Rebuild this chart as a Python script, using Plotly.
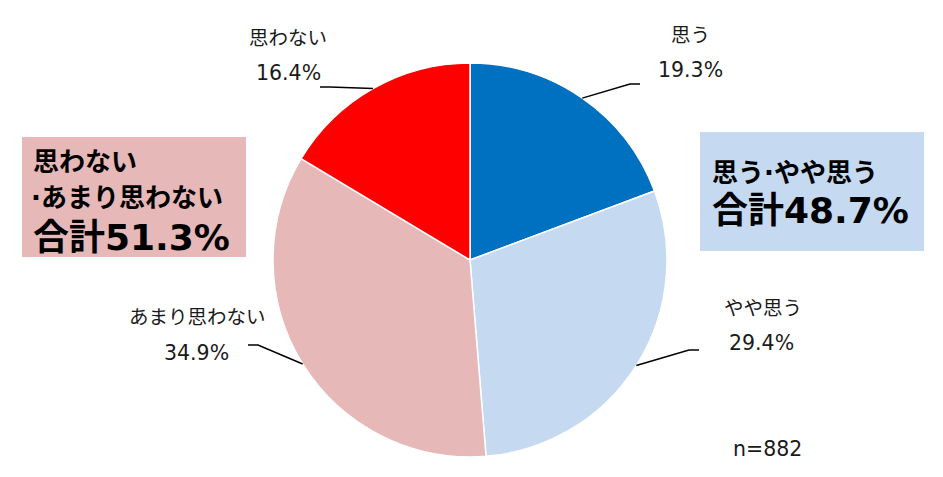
import math
import plotly.graph_objects as go

# ---- data ----
categories = ["思う", "やや思う", "あまり思わない", "思わない"]
values = [19.3, 29.4, 34.9, 16.4]
colors = ["#0070C0", "#C5D9F1", "#E6B8B7", "#FF0000"]
box_left_lines = ["思わない", "·あまり思わない", "合計51.3%"]
box_right_lines = ["思う·やや思う", "合計48.7%"]
n_label = "n=882"

W, H = 943, 477
CX, CY, R = 470, 260, 197

FONT = "DejaVu Sans, Noto Sans CJK JP, sans-serif"

def px(x):
    return x / W

def py(y):
    return 1 - y / H

fig = go.Figure()
fig.add_trace(go.Pie(
    labels=categories, values=values, sort=False, direction="clockwise",
    rotation=0, marker=dict(colors=colors, line=dict(color="white", width=1.5)),
    textinfo="none", hoverinfo="label+percent", showlegend=False,
    domain=dict(x=[px(CX - R), px(CX + R)], y=[py(CY + R), py(CY - R)]),
))

# leader-line layout (elbow, end) and label centres per category
label_layout = {
    "思う": dict(elbow=(630, 84), end=(640, 84), name=(690, 36), pct=(690, 70)),
    "やや思う": dict(elbow=(689, 350), end=(699, 350), name=(763, 308), pct=(761, 343)),
    "あまり思わない": dict(elbow=(258, 345), end=(248, 345), name=(197, 317), pct=(196, 353)),
    "思わない": dict(elbow=(330, 87), end=(320, 87), name=(288, 39), pct=(288, 73)),
}

shapes = []
annotations = []
total = sum(values)
cum = 0.0
for cat, v in zip(categories, values):
    mid = (cum + v / 2) / total * 2 * math.pi
    cum += v
    sx = CX + R * math.sin(mid)
    sy = CY - R * math.cos(mid)
    lay = label_layout[cat]
    ex, ey = lay["elbow"]
    tx, ty = lay["end"]
    shapes.append(dict(type="path", xref="paper", yref="paper",
                       path=f"M {px(sx)} {py(sy)} L {px(ex)} {py(ey)} L {px(tx)} {py(ty)}",
                       line=dict(color="black", width=1.5)))
    for txt, key, size in ((cat, "name", 19.5), (f"{v:.1f}%", "pct", 20.5)):
        x, y = lay[key]
        annotations.append(dict(text=txt, x=px(x), y=py(y), xref="paper", yref="paper",
                                showarrow=False, xanchor="center", yanchor="middle",
                                font=dict(family=FONT, size=size, color="#1a1a1a")))

# summary boxes
shapes.append(dict(type="rect", xref="paper", yref="paper", x0=px(22), x1=px(246),
                   y0=py(257), y1=py(137), fillcolor="#E6B8B7", line=dict(width=0), layer="below"))
shapes.append(dict(type="rect", xref="paper", yref="paper", x0=px(700), x1=px(924),
                   y0=py(251), y1=py(132), fillcolor="#C5D9F1", line=dict(width=0), layer="below"))

left_y = [162, 198, 237]
left_size = [26, 26, 36]
left_x = [31, 29, 31]
for t, y, s, x in zip(box_left_lines, left_y, left_size, left_x):
    annotations.append(dict(text=f"<b>{t}</b>", x=px(x), y=py(y), xref="paper", yref="paper",
                            showarrow=False, xanchor="left", yanchor="middle",
                            font=dict(family=FONT, size=s, color="black")))
right_y = [173, 210]
right_size = [26, 36]
for t, y, s in zip(box_right_lines, right_y, right_size):
    annotations.append(dict(text=f"<b>{t}</b>", x=px(710), y=py(y), xref="paper", yref="paper",
                            showarrow=False, xanchor="left", yanchor="middle",
                            font=dict(family=FONT, size=s, color="black")))

annotations.append(dict(text=n_label, x=px(767), y=py(449), xref="paper", yref="paper",
                        showarrow=False, xanchor="center", yanchor="middle",
                        font=dict(family=FONT, size=20.5, color="#1a1a1a")))

fig.update_layout(width=W, height=H, margin=dict(l=0, r=0, t=0, b=0),
                  paper_bgcolor="white", plot_bgcolor="white",
                  shapes=shapes, annotations=annotations)
fig.write_html("out.html", config={"displayModeBar": False},
               post_script="document.body.style.margin='0';")
